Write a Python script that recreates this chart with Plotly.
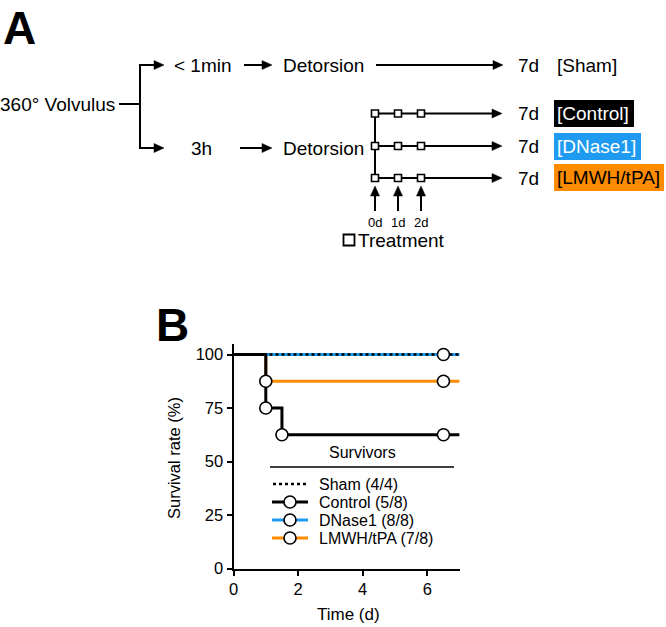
import plotly.graph_objects as go

# ---------------- data (panel B) ----------------
group_names = ["Sham", "Control", "DNase1", "LMWH/tPA"]
survivor_labels = ["Sham (4/4)", "Control (5/8)", "DNase1 (8/8)", "LMWH/tPA (7/8)"]

sham_time = [0, 7]
sham_surv = [100, 100]

control_time = [0, 1, 1.5, 7]
control_surv = [100, 75, 62.5, 62.5]
control_mark_time = [1, 1.5, 6.5]
control_mark_surv = [75, 62.5, 62.5]

dnase_time = [0, 7]
dnase_surv = [100, 100]
dnase_mark_time = [6.5]
dnase_mark_surv = [100]

lmwh_time = [0, 1, 7]
lmwh_surv = [100, 87.5, 87.5]
lmwh_mark_time = [1, 6.5]
lmwh_mark_surv = [87.5, 87.5]

x_ticks = [0, 2, 4, 6]
y_ticks = [0, 25, 50, 75, 100]

# ---------------- styles ----------------
W, H = 666, 627
FONT = "Liberation Sans, Arial, Helvetica, sans-serif"
BLACK = "#000000"
BLUE = "#1E9BF0"
ORANGE = "#FF8C00"
colors = {"Sham": BLACK, "Control": BLACK, "DNase1": BLUE, "LMWH/tPA": ORANGE}
DIAG = 19  # diagram font size

fig = go.Figure()

# survival step lines
def step(x, y, color, width, dash="solid", name=""):
    fig.add_trace(go.Scatter(x=x, y=y, mode="lines", line_shape="hv",
                             line=dict(color=color, width=width, dash=dash),
                             name=name, showlegend=False, hoverinfo="skip",
                             cliponaxis=False))

step(lmwh_time, lmwh_surv, colors["LMWH/tPA"], 3, name="LMWH/tPA")
step(dnase_time, dnase_surv, colors["DNase1"], 3, name="DNase1")
step(control_time, control_surv, colors["Control"], 3, name="Control")
step(sham_time, sham_surv, colors["Sham"], 2.5, dash="dot", name="Sham")

def marks(x, y, name):
    fig.add_trace(go.Scatter(x=x, y=y, mode="markers",
                             marker=dict(symbol="circle", size=12, color="white",
                                         line=dict(color=BLACK, width=1.6)),
                             name=name, showlegend=False, hoverinfo="skip",
                             cliponaxis=False))

marks(lmwh_mark_time, lmwh_mark_surv, "LMWH/tPA")
marks(dnase_mark_time, dnase_mark_surv, "DNase1")
marks(control_mark_time, control_mark_surv, "Control")

# ---------------- manual legend + diagram (pixel overlay axes) ----------------
shapes = []
annotations = []

def ptxt(x, y, text, size=DIAG, anchor="left", color=BLACK, bold=False, valign="middle",
         pad=1):
    if bold:
        text = "<b>" + text + "</b>"
    annotations.append(dict(x=x, y=y, xref="x2", yref="y2", text=text, showarrow=False,
                            xanchor=anchor, yanchor=valign, borderpad=pad,
                            font=dict(family=FONT, size=size, color=color)))

def pline(x0, y0, x1, y1, width=2, color=BLACK):
    shapes.append(dict(type="line", xref="x2", yref="y2", x0=x0, y0=y0, x1=x1, y1=y1,
                       line=dict(color=color, width=width)))

def harrow(x0, x1, y, width=2):
    pline(x0, y, x1 - 8, y, width)
    shapes.append(dict(type="path", xref="x2", yref="y2",
                       path=f"M {x1} {y} L {x1-10} {y-4.5} L {x1-10} {y+4.5} Z",
                       fillcolor=BLACK, line=dict(color=BLACK, width=0.5)))

def varrow(x, y0, y1, width=2):
    pline(x, y0, x, y1 + 8, width)
    shapes.append(dict(type="path", xref="x2", yref="y2",
                       path=f"M {x} {y1} L {x-4.5} {y1+10} L {x+4.5} {y1+10} Z",
                       fillcolor=BLACK, line=dict(color=BLACK, width=0.5)))

def square(x, y, s=7, width=1.6):
    shapes.append(dict(type="rect", xref="x2", yref="y2", x0=x - s / 2, y0=y - s / 2,
                       x1=x + s / 2, y1=y + s / 2, fillcolor="white",
                       line=dict(color=BLACK, width=width)))

# legend title and rule
ptxt(362, 452, "Survivors", size=16, anchor="center")
pline(270, 467, 454, 467, width=1.5)

leg_rows = [484, 502, 520, 538]
for name, label, yy in zip(group_names, survivor_labels, leg_rows):
    if name == "Sham":
        fig.add_trace(go.Scatter(x=[273, 306], y=[yy, yy], xaxis="x2", yaxis="y2",
                                 mode="lines", line=dict(color=BLACK, width=2.5, dash="dot"),
                                 showlegend=False, hoverinfo="skip"))
    else:
        fig.add_trace(go.Scatter(x=[272, 308], y=[yy, yy], xaxis="x2", yaxis="y2",
                                 mode="lines", line=dict(color=colors[name], width=3),
                                 showlegend=False, hoverinfo="skip"))
        fig.add_trace(go.Scatter(x=[290], y=[yy], xaxis="x2", yaxis="y2",
                                 mode="markers",
                                 marker=dict(symbol="circle", size=12, color="white",
                                             line=dict(color=BLACK, width=1.6)),
                                 showlegend=False, hoverinfo="skip"))
    ptxt(317, yy, label, size=16)

# axis titles
ptxt(348, 614, "Time (d)", size=17, anchor="center")
annotations.append(dict(x=174, y=458, xref="x2", yref="y2", text="Survival rate (%)",
                        showarrow=False, textangle=-90, xanchor="center", yanchor="middle",
                        font=dict(family=FONT, size=16.5, color=BLACK)))

# panel letters
ptxt(19, 0.5, "A", size=46, anchor="center", bold=True, valign="top", pad=0)
ptxt(172, 325, "B", size=46, anchor="center", bold=True)

# ---------------- panel A diagram ----------------
ROW_SHAM, ROW_LOW = 65, 148
ptxt(117, 104, "360° Volvulus", anchor="right")
pline(119, 104, 140, 104)
pline(140, ROW_SHAM, 140, ROW_LOW)
harrow(139, 164, ROW_SHAM)
harrow(139, 164, ROW_LOW)

ptxt(172, ROW_SHAM, "< 1min")
harrow(244, 272, ROW_SHAM)
ptxt(281, ROW_SHAM, "Detorsion")
harrow(376, 503, ROW_SHAM)
ptxt(516, ROW_SHAM, "7d")
ptxt(555, ROW_SHAM, "[Sham]")

ptxt(189, ROW_LOW, "3h")
harrow(240, 272, ROW_LOW)
ptxt(281, ROW_LOW, "Detorsion")

tree_x = 375
treat_x = [375, 398, 421]
treat_rows = [113.5, 146, 178]
pline(tree_x, treat_rows[0], tree_x, treat_rows[-1])
for ry in treat_rows:
    harrow(tree_x, 502, ry)
    ptxt(516, ry, "7d")
for ry in treat_rows:
    for tx in treat_x:
        square(tx, ry)

box_defs = [("[Control]", 554, 634, 100, 127, BLACK, "white"),
            ("[DNase1]", 554, 641, 133, 160, BLUE, "white"),
            ("[LMWH/tPA]", 554, 664, 164, 191, ORANGE, BLACK)]
for text, x0, x1, y0, y1, bg, fg in box_defs:
    shapes.append(dict(type="rect", xref="x2", yref="y2", x0=x0, x1=x1, y0=y0, y1=y1,
                       fillcolor=bg, line=dict(width=0)))
    ptxt(x0 + 1, (y0 + y1) / 2, text, color=fg)

for tx in treat_x:
    varrow(tx, 211, 186)
for tx, lab in zip(treat_x, ["0d", "1d", "2d"]):
    ptxt(tx, 222, lab, size=13, anchor="center")

square(349, 240, s=11, width=1.8)
ptxt(356, 240, "Treatment", size=19)

# ---------------- layout ----------------
x0_px, x1_px = 233.5, 459.6
y_top_px, y_bot_px = 343.8, 568.5

fig.update_layout(
    width=W, height=H,
    margin=dict(l=0, r=0, t=0, b=0),
    paper_bgcolor="white", plot_bgcolor="rgba(0,0,0,0)",
    template=None,
    showlegend=False,
    font=dict(family=FONT, size=16, color=BLACK),
    xaxis=dict(domain=[x0_px / W, x1_px / W], range=[0, 7], tickvals=x_ticks,
               showline=True, linecolor=BLACK, linewidth=2, ticks="outside",
               ticklen=5, tickwidth=2, tickcolor=BLACK, showgrid=False, zeroline=False,
               tickfont=dict(family=FONT, size=16.5, color=BLACK), automargin=False,
               anchor="y"),
    yaxis=dict(domain=[1 - y_bot_px / H, 1 - y_top_px / H], range=[0, 105], tickvals=y_ticks,
               showline=True, linecolor=BLACK, linewidth=2, ticks="outside",
               ticklen=5, tickwidth=2, tickcolor=BLACK, showgrid=False, zeroline=False,
               tickfont=dict(family=FONT, size=16.5, color=BLACK), automargin=False,
               anchor="x"),
    xaxis2=dict(domain=[0, 1], range=[0, W], visible=False, anchor="y2", fixedrange=True),
    yaxis2=dict(domain=[0, 1], range=[H, 0], visible=False, anchor="x2", fixedrange=True),
    shapes=shapes,
    annotations=annotations,
)

fig.write_html("out.html", config={"displayModeBar": False},
               post_script="document.body.style.margin='0';document.body.style.padding='0';")
